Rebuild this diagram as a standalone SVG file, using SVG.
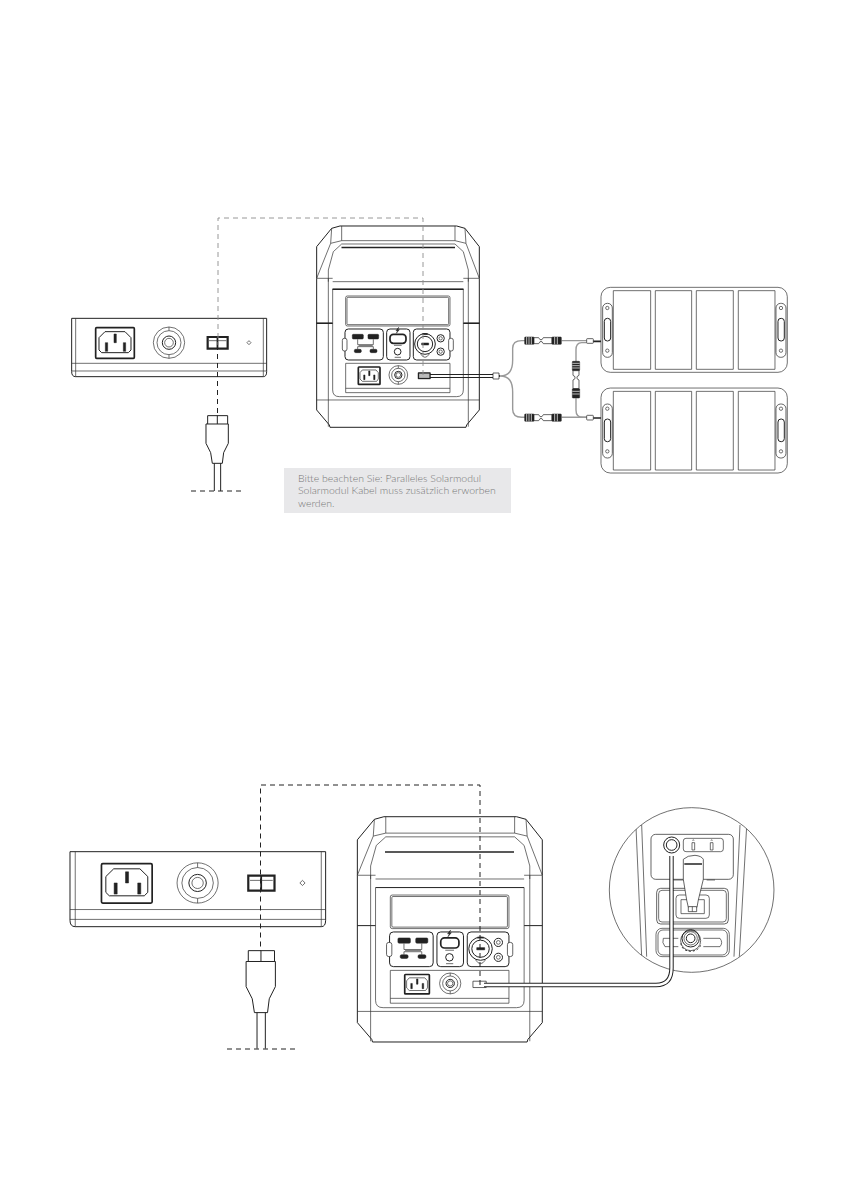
<svg xmlns="http://www.w3.org/2000/svg" xmlns:xlink="http://www.w3.org/1999/xlink" width="846" height="1192" viewBox="0 0 846 1192">
<style>
.l{fill:none;stroke:#333;stroke-width:.7;vector-effect:non-scaling-stroke;stroke-linejoin:round}
.m{fill:none;stroke:#222;stroke-width:1;vector-effect:non-scaling-stroke;stroke-linejoin:round}
.t{fill:#fff;stroke:#222;stroke-width:1.7;vector-effect:non-scaling-stroke;stroke-linejoin:round}
.k{fill:#222;stroke:#222;stroke-width:.5;vector-effect:non-scaling-stroke}
.w{fill:#fff;stroke:#222;stroke-width:.7;vector-effect:non-scaling-stroke;stroke-linejoin:round}
.gc{fill:none;stroke:#999;stroke-width:1.4;vector-effect:non-scaling-stroke;stroke-linejoin:round}
.dg{fill:none;stroke:#8c8c8c;stroke-width:.9;stroke-dasharray:5 4}
.dk{fill:none;stroke:#222;stroke-width:1;stroke-dasharray:5 4}
.note{font-family:"Lato","Liberation Sans",sans-serif;font-size:10.500px;font-weight:300;fill:#777}
</style>
<defs>
<g id="station">
<path class="m" d="M50,205V110L95,55L120,48H470L495,55L538,110V205"/>
<path class="m" d="M50,205V600L88,645L90,652H498L500,645L538,600V205"/>
<path class="l" d="M95,55L92,100L50,205M495,55L498,100L538,205M125,48V92M465,48V92M92,100L125,92H465L498,100"/>
<path class="l" d="M85,215V180L100,125L125,102H465L490,125L505,180V215"/>
<path class="l" d="M98,215H490M50,205H98M490,205H538"/>
<path class="m" d="M98,238H490M50,340H98M490,340H538"/>
<path class="l" d="M85,205V650M505,205V650M50,570H538M98,238V540Q98,560 118,560H470Q490,560 490,540V238"/>
<rect class="l" x="137" y="258" width="313" height="90" rx="5"/>
<rect class="l" x="141" y="262" width="305" height="82" rx="3"/>
<rect class="m" x="135" y="357" width="115" height="93" rx="10"/>
<rect class="m" x="260" y="357" width="70" height="93" rx="10"/>
<rect class="m" x="340" y="357" width="110" height="93" rx="10"/>
<rect class="w" x="127" y="385" width="14" height="38" rx="6"/>
<rect class="w" x="446" y="385" width="14" height="38" rx="6"/>
<rect class="k" x="157" y="373" width="33" height="14" rx="3"/>
<rect class="k" x="204" y="373" width="32" height="14" rx="3"/>
<rect class="k" x="163" y="418" width="21" height="10" rx="4"/>
<rect class="k" x="210" y="418" width="21" height="10" rx="4"/>
<path class="l" d="M173,388V404H220V388M173,418V410H220V418M176,407H218"/>
<path class="k" d="M296,352L288,362H293L289,370L298,359H293Z"/>
<rect class="t" x="270" y="373" width="48" height="27" rx="10"/>
<path class="l" d="M282,406H305M284,442H303"/>
<circle class="m" cx="293" cy="425" r="10"/>
<circle class="m" cx="375" cy="402" r="31"/>
<circle class="m" cx="375" cy="402" r="23"/>
<path class="t" d="M367,372H383"/>
<path class="l" d="M362,432Q375,452 388,432"/>
<path class="k" d="M365,399H386V405H365Z"/>
<circle class="m" cx="422" cy="385" r="11"/><circle class="l" cx="422" cy="385" r="5"/>
<circle class="m" cx="422" cy="425" r="11"/><circle class="l" cx="422" cy="425" r="5"/>
<rect class="l" x="137" y="460" width="313" height="88"/>
<path class="l" d="M137,535H450"/>
<rect class="t" x="175" y="471" width="65" height="52" rx="2"/>
<path class="l" d="M187,480H228L235,488V507L230,514H187L180,507V488Z"/>
<path class="k" d="M206,483H210V497H206ZM191,495H195V509H191ZM221,495H225V509H221Z"/>
<circle class="l" cx="295" cy="495" r="28"/>
<circle class="l" cx="295" cy="495" r="20"/>
<circle class="m" cx="295" cy="495" r="11"/>
<circle class="l" cx="295" cy="495" r="7"/>
<path class="l" d="M295,467V475M295,515V523"/>
<rect class="w" x="355" y="489" width="35" height="17"/>
</g>
<g id="side">
<path class="m" d="M35,55H620"/>
<path class="m" d="M35,55V215Q35,230 47,230H610Q620,230 620,215V55"/>
<path class="l" d="M47,55V230M610,55V230M35,190H620M35,213H620"/>
<rect class="t" x="107" y="83" width="116" height="92" rx="3"/>
<path class="m" d="M135,95H195L213,113V150L205,158H125L117,150V113Z"/>
<path class="k" d="M162,102H169V128H162ZM136,128H143V154H136ZM190,128H197V154H190Z"/>
<circle class="l" cx="327" cy="128" r="47"/>
<circle class="l" cx="327" cy="128" r="36"/>
<circle class="m" cx="327" cy="128" r="20"/>
<circle class="l" cx="327" cy="128" r="13"/>
<path class="l" d="M327,81V92M327,164V175"/>
<rect x="443" y="111" width="60" height="35" fill="#fff" stroke="#222" stroke-width="2.200" vector-effect="non-scaling-stroke"/>
<path d="M472.500,111V146" stroke="#222" stroke-width="1.800" vector-effect="non-scaling-stroke"/>
<path class="l" d="M447,122H499"/>
<path class="l" d="M567,122L573,128L567,134L561,128Z"/>
</g>
<g id="plug">
<path class="m" d="M443,372V347H503V372"/>
<path class="m" d="M472,347V372"/>
<path class="m" d="M438,372H505V430L491,458L487,490H457L452,458L438,430Z"/>
<path class="m" d="M463,490V573M482,490V573"/>
</g>
<g id="usbcon">
<rect class="k" x="0" y="-11" width="28" height="22" rx="2"/>
<path d="M6,-11V11M13,-11V11M20,-11V11" stroke="#fff" stroke-width=".7" vector-effect="non-scaling-stroke"/>
<path class="w" d="M28,-9H42L46,-3H52L56,-9H82V9H56L52,3H46L42,9H28Z"/>
<rect class="k" x="82" y="-11" width="28" height="22" rx="2"/>
<path d="M90,-11V11M98,-11V11" stroke="#fff" stroke-width=".7" vector-effect="non-scaling-stroke"/>
</g>
<g id="solar">
<rect class="l" x="333" y="22" width="559" height="255" rx="28"/>
<rect class="l" x="370" y="32" width="112" height="236"/>
<rect class="l" x="496" y="32" width="109" height="236"/>
<rect class="l" x="619" y="32" width="111" height="236"/>
<rect class="l" x="745" y="32" width="110" height="236"/>
<rect class="w" x="338" y="70" width="29" height="162" rx="14"/>
<rect class="m" x="343" y="115" width="19" height="68" rx="9"/>
<circle class="l" cx="352" cy="84" r="5"/><circle class="l" cx="352" cy="212" r="5"/>
<rect class="w" x="858" y="70" width="30" height="162" rx="14"/>
<rect class="m" x="864" y="115" width="19" height="68" rx="9"/>
<circle class="l" cx="873" cy="84" r="5"/><circle class="l" cx="873" cy="212" r="5"/>
</g>
<clipPath id="lens"><circle cx="275" cy="270" r="247"/></clipPath>
</defs>

<g id="side-panel-top"><use href="#side" transform="translate(60,300) scale(.3333)"/></g>
<g id="plug-top"><use href="#plug" transform="translate(60,300) scale(.3333)"/></g>
<g id="station-top">
<use href="#station" transform="translate(300,210) scale(.3333)"/>
<path d="M341.500,247.500H455" stroke="#222" stroke-width="1.600"/>
<path d="M332.500,289.300H463.500M316.500,323.300H332.500M463.500,323.300H479.500" stroke="#222" stroke-width="1.500"/>
<rect x="418.500" y="373" width="11.500" height="5.500" fill="#bbb" stroke="#222" stroke-width="1.200"/>
</g>
<g id="solar-panel-1"><use href="#solar" transform="translate(490,280) scale(.3333)"/></g>
<g id="solar-panel-2"><use href="#solar" transform="translate(490,380.700) scale(.3333)"/></g>

<g id="note-box">
<rect x="284" y="468" width="227" height="45" fill="#e8e8ea"/>
<text class="note" x="298" y="482">Bitte beachten Sie: Paralleles Solarmodul</text>
<text class="note" x="298" y="494">Solarmodul Kabel muss zusätzlich erworben</text>
<text class="note" x="298" y="507">werden.</text>
</g>

<g id="connectors-top">
<path class="dg" d="M423,375V218H218V345"/>
<path class="dk" d="M217.500,345V415"/>
<path class="dk" d="M191,491H243"/>
<g transform="translate(490,280) scale(.3333)">
<path class="gc" d="M30,288C58,288 68,270 68,240V205Q68,182 95,182H105M215,182H290M30,288C58,288 68,306 68,336V388Q68,412 95,412H105M215,412H290"/>
<path class="gc" d="M290,188H275Q258,188 258,210V245M258,355V390Q258,412 278,412H290"/>
<use href="#usbcon" transform="translate(104,182)"/>
<use href="#usbcon" transform="translate(104,413)"/>
<use href="#usbcon" transform="translate(258,244) rotate(90)"/>
<rect class="w" x="290" y="176" width="20" height="14" rx="2"/>
<rect class="w" x="290" y="406" width="20" height="14" rx="2"/>
<path d="M310,184H333M310,414H333" fill="none" stroke="#222" stroke-width="1.700" vector-effect="non-scaling-stroke"/>
<path d="M14,288H30" fill="none" stroke="#222" stroke-width="1.700" vector-effect="non-scaling-stroke"/>
</g>
<path class="m" d="M430,374.500H493M430,377.500H493"/>
<rect class="w" x="493" y="373" width="6" height="6"/>
</g>

<g id="side-panel-bottom"><use href="#side" transform="translate(54.700,828.100) scale(.437,.4286)"/></g>
<g id="plug-bottom"><use href="#plug" transform="translate(54.700,800.300) scale(.437,.4333)"/></g>
<g id="station-bottom">
<use href="#station" transform="translate(338.400,798.800) scale(.379,.373)"/>
<path d="M385,852H514" stroke="#222" stroke-width="1.600"/>
</g>

<g id="magnifier" transform="translate(600,800) scale(.3333)">
<g clip-path="url(#lens)">
<circle cx="275" cy="270" r="247" fill="#fff"/>
<path class="l" d="M108,80L125,470M125,75L140,470M420,75L402,470M440,80L418,470"/>
<rect class="w" x="153" y="103" width="247" height="135" rx="14"/>
<rect class="l" x="250" y="115" width="120" height="40" rx="8"/>
<path class="l" d="M276,128H284V150H276ZM331,128H339V150H331Z"/>
<path class="l" d="M278,122L280,119L282,122M333,122L335,119L337,122"/>
<circle class="m" cx="215" cy="135" r="24"/>
<circle class="m" cx="215" cy="135" r="16"/>
<path class="l" d="M220,240H250M320,240H345"/>
<rect class="w" x="170" y="265" width="215" height="107" rx="12"/>
<rect class="l" x="176" y="271" width="203" height="95" rx="10"/>
<path class="l" d="M228,295Q228,285 238,285H318Q328,285 328,295V345Q328,355 318,355H238Q228,355 228,345Z"/>
<rect class="l" x="243" y="299" width="70" height="42"/>
<path class="w" d="M250,178Q262,166 285,166Q305,168 310,178V238L295,300L291,322H265L260,300L250,238Z"/>
<path d="M253,192H306" stroke="#222" stroke-width="1.600" vector-effect="non-scaling-stroke"/>
<rect class="w" x="265" y="320" width="25" height="15"/>
<path class="l" d="M277,320V335"/>
<rect class="l" x="168" y="385" width="220" height="85" rx="18"/>
<rect class="l" x="174" y="390" width="208" height="75" rx="15"/>
<path class="l" d="M190,415H235M310,415H360Q370,428 360,440H310M235,440H195Q185,428 190,415"/>
<circle class="w" cx="272" cy="422" r="30"/>
<path class="m" d="M243,430Q245,452 272,454Q300,452 303,430" stroke-dasharray="2 2"/>
<circle class="m" cx="272" cy="415" r="26"/>
<circle class="l" cx="272" cy="415" r="20"/>
<circle class="m" cx="272" cy="415" r="13"/>
</g>
<circle class="l" cx="275" cy="270" r="247"/>
</g>

<g id="connectors-bottom">
<path class="dk" d="M480,985V785H260.500V951"/>
<path class="dk" d="M227,1049H296"/>
<path d="M484,985H656Q671.500,985 671.500,968V856" fill="none" stroke="#222" stroke-width="4.400"/>
<path d="M484,985H656Q671.500,985 671.500,968V856" fill="none" stroke="#fff" stroke-width="2.400"/>
</g>
</svg>
